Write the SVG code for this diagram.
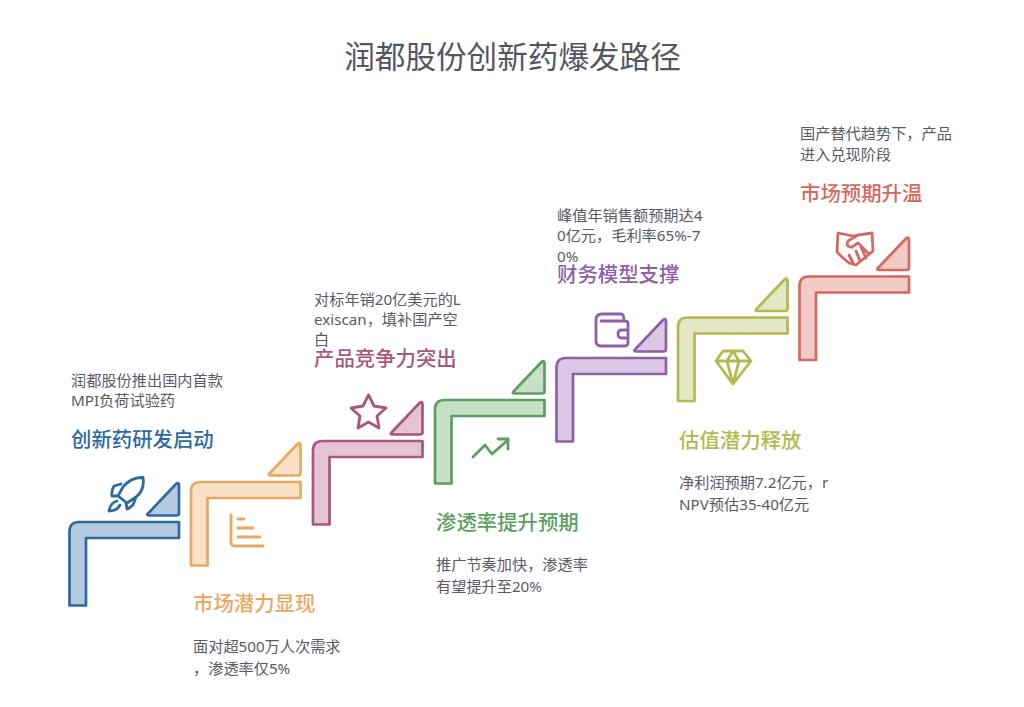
<svg xmlns="http://www.w3.org/2000/svg" width="1024" height="707" viewBox="0 0 1024 707">
<defs>
<g id="step">
<path d="M0 83.500V9.500Q0 0 9.500 0H109.500V16H16.500V83.500Z"/>
<path d="M78.500 -8.500L106.500 -38Q109.500 -40.500 109.500 -36.500V-9Q109.500 -6.500 107 -6.500H80Q76.500 -6.500 78.500 -8.500Z"/>
</g>
</defs>
<style>
text{font-family:"Noto Sans","Noto Sans CJK SC",sans-serif}
.t{font-size:30.600px;fill:#55555f}
.h{font-size:20.400px;font-weight:500}
.b{font-size:15.200px;fill:#5a5a64}
.s{stroke-width:2.700px;stroke-linejoin:round}
.i{fill:none;stroke-width:2.800px;stroke-linecap:round;stroke-linejoin:round}
.c1{stroke:#2e6a9e;fill:#b4cade}.c2{stroke:#e8a85f;fill:#f9e1c8}.c3{stroke:#a8577e;fill:#e4c4d3}.c4{stroke:#5b9e5f;fill:#c7dfc7}.c5{stroke:#8f5fa8;fill:#d9c7e3}.c6{stroke:#b3b94f;fill:#e4e7c6}.c7{stroke:#d46a5f;fill:#f3cbc6}
</style>
<rect width="1024" height="707" fill="#fff"/>
<text class="t" x="512.500" y="68" text-anchor="middle">润都股份创新药爆发路径</text>
<g id="node1">
<use href="#step" class="s c1" x="69.500" y="522"/>
<text class="h" x="71" y="447" fill="#2e6a9e">创新药研发启动</text>
<text class="b" x="71" y="386">润都股份推出国内首款</text>
<text class="b" x="71" y="406">MPI负荷试验药</text>
<path class="i" stroke="#2e6a9e" d="M143 477.500Q131 477 123 487L118 496L127 503L136 497Q145 490 143 477.500ZM121 484L114 486Q111 491 112 496L118 496M136 497L133 505Q130 508 127 509L126 503M117 501Q110 503 109 511Q117 511 120 505"/>
</g>
<g id="node2">
<use href="#step" class="s c2" x="191" y="482"/>
<text class="h" x="193" y="611" fill="#e8a85f">市场潜力显现</text>
<text class="b" x="193" y="652">面对超500万人次需求</text>
<text class="b" x="193" y="674">，渗透率仅5%</text>
<path class="i" stroke="#e8a85f" d="M231 515V542Q231 546 235 546H263M238 519H244M238 528H253M238 537H260"/>
</g>
<g id="node3">
<use href="#step" class="s c3" x="313" y="441"/>
<text class="h" x="314" y="366" fill="#a8577e">产品竞争力突出</text>
<text class="b" x="314" y="305">对标年销20亿美元的L</text>
<text class="b" x="314" y="325">exiscan，填补国产空</text>
<text class="b" x="314" y="345">白</text>
<path class="i" stroke="#a8577e" d="M368.500 395L374 406L386 408L377 416L379 428L368.500 422L358 428L360 416L351 408L363 406Z"/>
</g>
<g id="node4">
<use href="#step" class="s c4" x="435" y="400"/>
<text class="h" x="436" y="530" fill="#5b9e5f">渗透率提升预期</text>
<text class="b" x="436" y="570">推广节奏加快，渗透率</text>
<text class="b" x="436" y="592">有望提升至20%</text>
<path class="i" stroke="#5b9e5f" d="M473 457L485 445L492 454L508 440M498 439H508V449"/>
</g>
<g id="node5">
<use href="#step" class="s c5" x="556.500" y="358"/>
<text class="h" x="557" y="282" fill="#8f5fa8">财务模型支撑</text>
<text class="b" x="557" y="221">峰值年销售额预期达4</text>
<text class="b" x="557" y="241">0亿元，毛利率65%-7</text>
<text class="b" x="557" y="262">0%</text>
<path class="i" stroke="#8f5fa8" d="M596 320Q596 314 602 314H621Q624 314 624 321H601M596 320V341Q596 346 601 346H625Q628 346 628 342V323Q628 321 624 321M628 330H622Q618 330 618 334Q618 338 622 338H628"/>
</g>
<g id="node6">
<use href="#step" class="s c6" x="678" y="317.500"/>
<text class="h" x="679" y="448" fill="#b3b94f">估值潜力释放</text>
<text class="b" x="679" y="488">净利润预期7.2亿元，r</text>
<text class="b" x="679" y="510">NPV预估35-40亿元</text>
<path class="i" stroke="#b3b94f" d="M723 351H743L751 361L733 384L716 361ZM716 361H751M727 361L733 351L739 361L733 384L727 361"/>
</g>
<g id="node7">
<use href="#step" class="s c7" x="799.500" y="276.500"/>
<text class="h" x="800" y="201" fill="#d46a5f">市场预期升温</text>
<text class="b" x="800" y="139">国产替代趋势下，产品</text>
<text class="b" x="800" y="160">进入兑现阶段</text>
<path class="i" stroke="#d46a5f" d="M838 233L853 236L858 235L872 233L873 251L856 265L849 263L842 257L837 252ZM858 235L848 241Q845 247 852 247L858 243L868 253M861 247L866 258M856 251L860 261M849 255L853 263"/>
</g>
</svg>
